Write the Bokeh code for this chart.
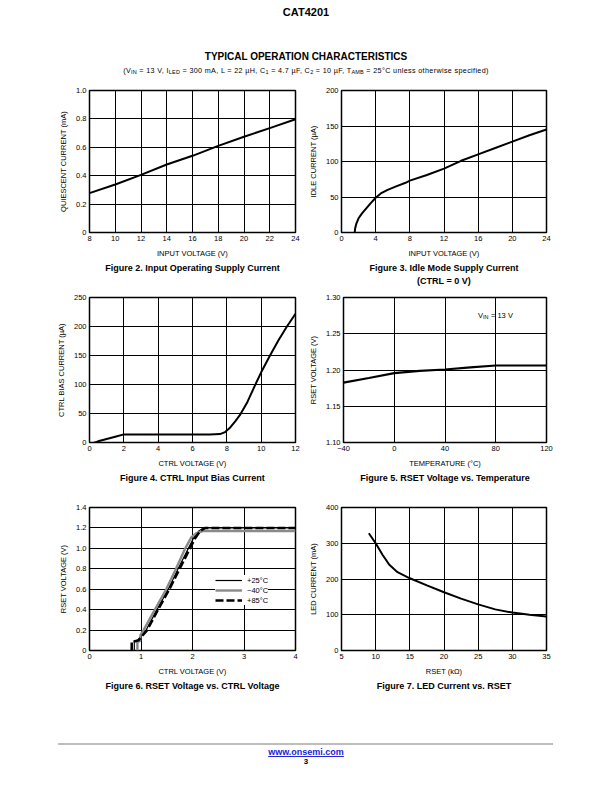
from bokeh.plotting import figure
from bokeh.models import FixedTicker, Title, Label, Div, Range1d, Spacer
from bokeh.layouts import column, row
from bokeh.embed import file_html
from bokeh.resources import INLINE

FONT = "Liberation Sans"

# ---------------- data ----------------
fig2_vin = [8, 10, 12, 14, 16, 18, 20, 22, 24]
fig2_iq_ma = [0.277, 0.338, 0.406, 0.479, 0.540, 0.610, 0.674, 0.735, 0.798]
fig2_xticks = [8, 10, 12, 14, 16, 18, 20, 22, 24]
fig2_xlabels = ["8", "10", "12", "14", "16", "18", "20", "22", "24"]
fig2_yticks = [0, 0.2, 0.4, 0.6, 0.8, 1.0]
fig2_ylabels = ["0", "0.2", "0.4", "0.6", "0.8", "1.0"]

fig3_vin = [1.55, 1.6, 1.75, 2.0, 2.4, 2.9, 3.4, 4.0, 4.6, 5.4, 6.4, 7.5, 8.0, 10.0, 12.0, 14.0, 16.0, 18.0, 20.0, 22.0, 24.0]
fig3_idle_ua = [0, 6, 13, 20, 27, 34, 41, 49, 55, 60, 65, 70, 73, 81, 90, 101, 110, 119, 128, 137, 145]
fig3_xticks = [0, 4, 8, 12, 16, 20, 24]
fig3_xlabels = ["0", "4", "8", "12", "16", "20", "24"]
fig3_yticks = [0, 50, 100, 150, 200]
fig3_ylabels = ["0", "50", "100", "150", "200"]

fig4_vctrl = [0, 0.5, 1.0, 1.5, 2.0, 3, 4, 5, 6, 7, 7.6, 7.9, 8.2, 8.5, 8.8, 9.2, 9.6, 10.0, 10.5, 11.0, 11.5, 12.0]
fig4_ibias_ua = [-3, 2, 6, 10, 14, 14, 14, 14, 14, 14, 14.5, 18, 26, 37, 49, 70, 96, 121, 149, 176, 200, 222]
fig4_xticks = [0, 2, 4, 6, 8, 10, 12]
fig4_xlabels = ["0", "2", "4", "6", "8", "10", "12"]
fig4_yticks = [0, 50, 100, 150, 200, 250]
fig4_ylabels = ["0", "50", "100", "150", "200", "250"]

fig5_temp = [-40, -20, 0, 20, 40, 60, 80, 100, 120]
fig5_vrset = [1.1827, 1.1890, 1.1956, 1.1988, 1.2007, 1.2035, 1.2062, 1.2062, 1.2062]
fig5_xticks = [-40, 0, 40, 80, 120]
fig5_xlabels = ["\u221240", "0", "40", "80", "120"]
fig5_yticks = [1.10, 1.15, 1.20, 1.25, 1.30]
fig5_ylabels = ["1.10", "1.15", "1.20", "1.25", "1.30"]

fig6_vctrl_p25 = [0.87, 0.87, 0.93, 0.95, 1.10, 1.31, 1.53, 1.72, 1.92, 2.02, 2.12, 2.22, 3.0, 4.0]
fig6_vrset_p25 = [0, 0.09, 0.09, 0.11, 0.20, 0.40, 0.60, 0.80, 1.00, 1.10, 1.17, 1.20, 1.20, 1.20]
fig6_vctrl_m40 = [0.93, 0.93, 0.98, 0.99, 1.05, 1.27, 1.49, 1.68, 1.86, 1.98, 2.08, 2.20, 3.0, 4.0]
fig6_vrset_m40 = [0, 0.09, 0.09, 0.15, 0.20, 0.40, 0.60, 0.80, 1.00, 1.11, 1.15, 1.17, 1.17, 1.17]
fig6_vctrl_p85 = [0.82, 0.82, 0.89, 0.95, 1.12, 1.33, 1.55, 1.75, 1.95, 2.05, 2.15, 2.25, 3.0, 4.0]
fig6_vrset_p85 = [0, 0.09, 0.09, 0.10, 0.20, 0.40, 0.60, 0.80, 1.00, 1.10, 1.17, 1.20, 1.20, 1.20]
fig6_series = ["+25\u00b0C", "\u221240\u00b0C", "+85\u00b0C"]
fig6_xticks = [0, 1, 2, 3, 4]
fig6_xlabels = ["0", "1", "2", "3", "4"]
fig6_yticks = [0, 0.2, 0.4, 0.6, 0.8, 1.0, 1.2, 1.4]
fig6_ylabels = ["0", "0.2", "0.4", "0.6", "0.8", "1.0", "1.2", "1.4"]

fig7_rset = [9.0, 10.0, 11.0, 12.0, 13.2, 15.0, 17.5, 20.0, 22.5, 25.0, 27.5, 30.0, 32.5, 35.0]
fig7_iled = [328, 300, 268, 240, 219, 202, 182, 163, 145, 129, 115, 106, 100, 95]
fig7_xticks = [5, 10, 15, 20, 25, 30, 35]
fig7_xlabels = ["5", "10", "15", "20", "25", "30", "35"]
fig7_yticks = [0, 100, 200, 300, 400]
fig7_ylabels = ["0", "100", "200", "300", "400"]


def chart(width, height, xr, yr, xticks, xlabels, yticks, ylabels, xtitle, ytitle,
          captions, borders):
    bl, br, bt, bb = borders
    p = figure(width=width, height=height, x_range=Range1d(*xr), y_range=Range1d(*yr),
               output_backend="svg", toolbar_location=None,
               min_border_left=bl, min_border_right=br,
               min_border_top=bt, min_border_bottom=bb)
    p.outline_line_color = "black"
    p.outline_line_width = 1.5
    p.outline_line_alpha = 1.0
    for ax, ticks, labels, title in ((p.xaxis[0], xticks, xlabels, xtitle),
                                     (p.yaxis[0], yticks, ylabels, ytitle)):
        ax.ticker = FixedTicker(ticks=ticks, minor_ticks=[])
        ax.major_label_overrides = dict(zip(ticks, labels))
        ax.axis_line_color = None
        ax.major_tick_line_color = None
        ax.minor_tick_line_color = None
        ax.major_tick_out = 0
        ax.major_tick_in = 0
        ax.minor_tick_out = 0
        ax.minor_tick_in = 0
        ax.major_label_text_font = FONT
        ax.major_label_text_font_size = "7.5px"
        ax.major_label_text_color = "black"
        ax.major_label_standoff = 3
        ax.axis_label = title
        ax.axis_label_text_font = FONT
        ax.axis_label_text_font_size = "7.5px"
        ax.axis_label_text_font_style = "normal"
        ax.axis_label_text_color = "black"
        ax.axis_label_standoff = 5
    for g in (p.xgrid[0], p.ygrid[0]):
        g.grid_line_color = "black"
        g.grid_line_width = 1
        g.grid_line_alpha = 1.0
    for i, text in enumerate(captions):
        t = Title(text=text, align="center", text_font=FONT, text_font_size="9px",
                  text_font_style="bold", text_color="black",
                  standoff=1 if i == 0 else 0, text_line_height=1.0)
        p.add_layout(t, "below")
    return p


LW = 297
RW = 299
L_BORD = (81, 10)
R_BORD = (36, 58)

# Row 1
p2 = chart(LW, 204, (8, 24), (0, 1.0), fig2_xticks, fig2_xlabels, fig2_yticks, fig2_ylabels,
           "INPUT VOLTAGE (V)", "QUIESCENT CURRENT (mA)",
           ["Figure 2. Input Operating Supply Current"], (*L_BORD, 6, 56))
p2.line(fig2_vin, fig2_iq_ma, line_color="black", line_width=2)

p3 = chart(RW, 204, (0, 24), (0, 200), fig3_xticks, fig3_xlabels, fig3_yticks, fig3_ylabels,
           "INPUT VOLTAGE (V)", "IDLE CURRENT (\u00b5A)",
           ["Figure 3. Idle Mode Supply Current", "(CTRL = 0 V)"], (*R_BORD, 6, 56))
p3.line(fig3_vin, fig3_idle_ua, line_color="black", line_width=2)

# Row 2
p4 = chart(LW, 210, (0, 12), (0, 250), fig4_xticks, fig4_xlabels, fig4_yticks, fig4_ylabels,
           "CTRL VOLTAGE (V)", "CTRL BIAS CURRENT (\u00b5A)",
           ["Figure 4. CTRL Input Bias Current"], (*L_BORD, 9, 56))
p4.line(fig4_vctrl, fig4_ibias_ua, line_color="black", line_width=2)

p5 = chart(RW, 210, (-40, 120), (1.10, 1.30), fig5_xticks, fig5_xlabels, fig5_yticks, fig5_ylabels,
           "TEMPERATURE (\u00b0C)", "RSET VOLTAGE (V)",
           ["Figure 5. RSET Voltage vs. Temperature"], (*R_BORD, 9, 56))
p5.line(fig5_temp, fig5_vrset, line_color="black", line_width=2.2)
for txt, dx, dy, size in (("V", 0, 0, "7.5px"), ("IN", 5, -2, "5.5px"), ("= 13 V", 13, 0, "7.5px")):
    p5.add_layout(Label(x=66, y=1.2755, x_offset=dx, y_offset=dy, text=txt,
                        text_font=FONT, text_font_size=size, text_color="black",
                        text_baseline="middle", text_align="left"))

# Row 3
p6 = chart(LW, 202, (0, 4), (0, 1.4), fig6_xticks, fig6_xlabels, fig6_yticks, fig6_ylabels,
           "CTRL VOLTAGE (V)", "RSET VOLTAGE (V)",
           ["Figure 6. RSET Voltage vs. CTRL Voltage"], (*L_BORD, 9, 50))
p6.line(fig6_vctrl_p25, fig6_vrset_p25, line_color="black", line_width=1.2, legend_label=fig6_series[0])
p6.line(fig6_vctrl_m40, fig6_vrset_m40, line_color="#8a8a8a", line_width=2.4, legend_label=fig6_series[1])
p6.line(fig6_vctrl_p85, fig6_vrset_p85, line_color="black", line_width=2.6, line_dash="8 3",
        legend_label=fig6_series[2])
leg = p6.legend[0]
leg.location = (126, 45)
leg.background_fill_color = "white"
leg.background_fill_alpha = 1.0
leg.border_line_color = None
leg.padding = 3
leg.spacing = 0
leg.margin = 0
leg.glyph_width = 27
leg.glyph_height = 10
leg.label_height = 10
leg.label_standoff = 5
leg.label_text_font = FONT
leg.label_text_font_size = "7.5px"
leg.label_text_color = "black"
leg.label_text_baseline = "middle"

p7 = chart(RW, 202, (5, 35), (0, 400), fig7_xticks, fig7_xlabels, fig7_yticks, fig7_ylabels,
           "RSET (k\u03a9)", "LED CURRENT (mA)",
           ["Figure 7. LED Current vs. RSET"], (*R_BORD, 9, 50))
p7.line(fig7_rset, fig7_iled, line_color="black", line_width=2)

sub = "font-size:5.5px;position:relative;top:1.5px;letter-spacing:0.2px"
header_html = f"""
<div style="position:relative;width:596px;height:76px;font-family:'Liberation Sans',Arial,sans-serif;color:#000;">
  <div style="position:absolute;left:0;top:-1px;width:596px;text-align:center;font-weight:bold;font-size:11px;line-height:11px;">CAT4201</div>
  <div style="position:absolute;left:0;top:44px;width:596px;text-align:center;font-weight:bold;font-size:10px;line-height:10px;">TYPICAL OPERATION CHARACTERISTICS</div>
  <div style="position:absolute;left:0;top:58.5px;width:596px;text-align:center;font-size:7.2px;line-height:7px;letter-spacing:0.35px;white-space:nowrap;">(V<span style="{sub}">IN</span> = 13 V, I<span style="{sub}">LED</span> = 300 mA, L = 22 \u00b5H, C<span style="{sub}">1</span> = 4.7 \u00b5F, C<span style="{sub}">2</span> = 10 \u00b5F, T<span style="{sub}">AMB</span> = 25\u00b0C unless otherwise specified)</div>
</div>
"""
header = Div(text=header_html, width=596, height=76, margin=0)

footer_html = """
<div style="position:relative;width:596px;height:84px;font-family:'Liberation Sans',Arial,sans-serif;color:#000;">
  <div style="position:absolute;left:50px;top:43px;width:495px;height:2px;background:#bdbdbd;"></div>
  <div style="position:absolute;left:0;top:47.5px;width:596px;text-align:center;font-weight:bold;font-size:9px;line-height:9px;color:#2323d8;text-decoration:underline;">www.onsemi.com</div>
  <div style="position:absolute;left:0;top:58px;width:596px;text-align:center;font-weight:bold;font-size:8px;line-height:8px;">3</div>
</div>
"""
footer = Div(text=footer_html, width=596, height=84, margin=0)

content = column(header,
                 row(p2, p3, spacing=0),
                 row(p4, p5, spacing=0),
                 row(p6, p7, spacing=0),
                 footer, spacing=0)
layout = row(Spacer(width=8, height=784),
             column(Spacer(width=596, height=8), content, spacing=0),
             spacing=0)

open("out.html", "w").write(file_html(layout, INLINE))
